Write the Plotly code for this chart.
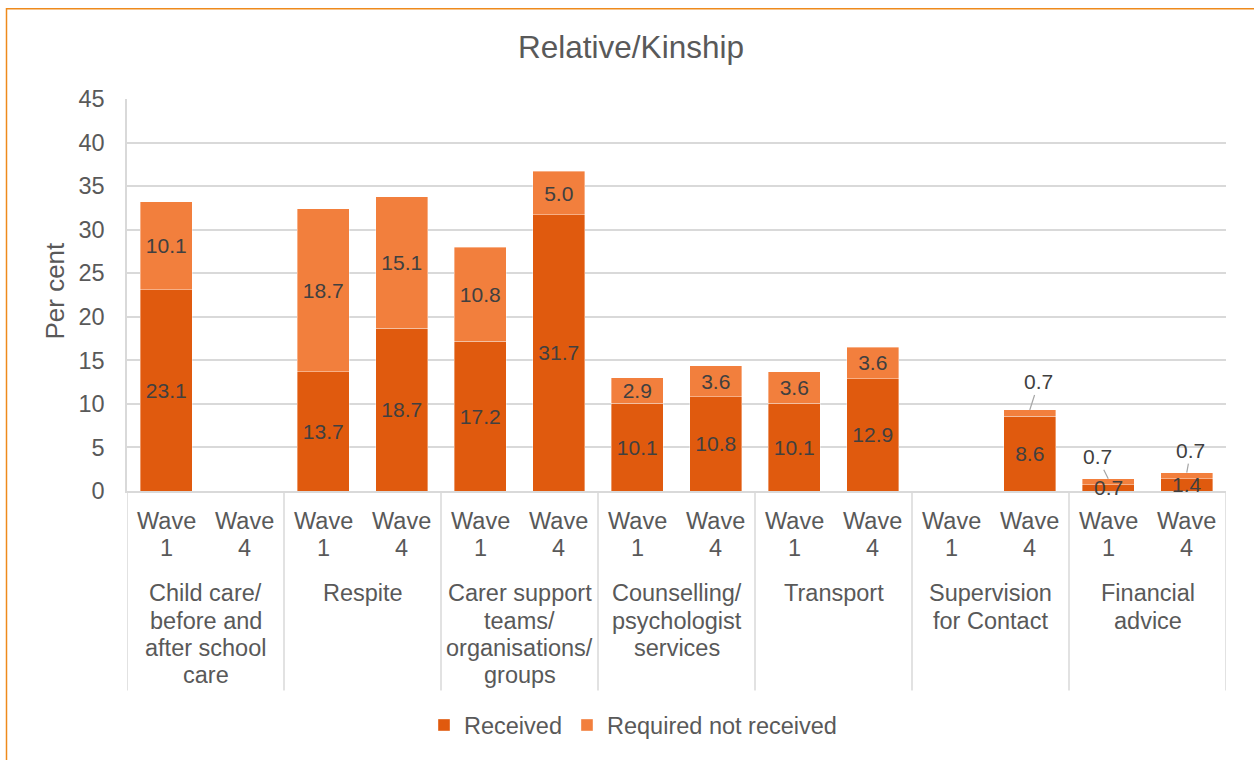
import plotly.graph_objects as go

# ---- data ----
groups = ["Child care/<br>before and<br>after school<br>care", "Respite",
          "Carer support<br>teams/<br>organisations/<br>groups",
          "Counselling/<br>psychologist<br>services", "Transport",
          "Supervision<br>for Contact", "Financial<br>advice"]
waves = ["Wave<br>1", "Wave<br>4"]
received = [23.1, None, 13.7, 18.7, 17.2, 31.7, 10.1, 10.8, 10.1, 12.9, None, 8.6, 0.7, 1.4]
required_not_received = [10.1, None, 18.7, 15.1, 10.8, 5.0, 2.9, 3.6, 3.6, 3.6, None, 0.7, 0.7, 0.7]
y_ticks = [0, 5, 10, 15, 20, 25, 30, 35, 40, 45]

# ---- style ----
FONT = "Liberation Sans, Arial, sans-serif"
TXT = "#595959"
LBL = "#404040"
C_REC = "#E05A0E"
C_REQ = "#F27F3D"
GRID = "#D9D9D9"
FRAME = "#EE8A1C"

W, H = 1254, 760
L, R, T, B = 127, 28, 99, 266
ph = H - T - B
pw = W - L - R

def py(px):  # pixel y -> paper y
    return (H - B - px) / ph

def pxx(px):
    return (px - L) / pw

n = len(received)
xs = list(range(n))
tick_text = [waves[i % 2] for i in xs]

# leader-line labels for small top segments (pixel offsets are style)
leader = {11: (9, -28), 12: (-11, -22), 13: (4, -22)}
# small bottom segments whose label is drawn on top of everything
small_bottom = {12, 13}

req_text = ["" if (v is None or i in leader) else f"{v:.1f}" for i, v in enumerate(required_not_received)]
rec_text = ["" if (v is None or i in small_bottom) else f"{v:.1f}" for i, v in enumerate(received)]

fig = go.Figure()
fig.add_trace(go.Bar(
    x=xs, y=received, name="Received", marker=dict(color=C_REC, line=dict(color="rgba(255,255,255,0.5)", width=0.75)),
    text=rec_text, textposition="inside", insidetextanchor="middle", textangle=0,
    textfont=dict(color=LBL, size=21, family=FONT), cliponaxis=False, hoverinfo="skip"))
fig.add_trace(go.Bar(
    x=xs, y=required_not_received, name="Required not received",
    marker=dict(color=C_REQ, line=dict(color="rgba(255,255,255,0.5)", width=0.75)),
    text=req_text, textposition="inside", insidetextanchor="middle", textangle=0,
    textfont=dict(color=LBL, size=21, family=FONT), cliponaxis=False, hoverinfo="skip"))

annotations = []
for i, (ax, ay) in leader.items():
    tot = (received[i] or 0) + (required_not_received[i] or 0)
    annotations.append(dict(x=i, y=tot, xref="x", yref="y", text=f"{required_not_received[i]:.1f}",
                            showarrow=True, arrowhead=0, arrowwidth=1.2, arrowcolor="#A6A6A6",
                            ax=ax, ay=ay, standoff=0,
                            font=dict(size=21, color=LBL, family=FONT)))
for i in sorted(small_bottom):
    annotations.append(dict(x=i, y=received[i] / 2, xref="x", yref="y", text=f"{received[i]:.1f}",
                            showarrow=False, xanchor="center", yanchor="middle",
                            font=dict(size=21, color=LBL, family=FONT)))

# category labels (wave row)
for i in xs:
    for j, line in enumerate(tick_text[i].split("<br>")):
        annotations.append(dict(x=i, y=py(524 + j * 27.5), xref="x", yref="paper", text=line,
                                showarrow=False, xanchor="center", yanchor="middle",
                                font=dict(size=23.5, color=TXT, family=FONT)))
# group labels
for g, label in enumerate(groups):
    for j, line in enumerate(label.split("<br>")):
        annotations.append(dict(x=2 * g + 0.5, y=py(597 + j * 27.5), xref="x", yref="paper", text=line,
                                showarrow=False, xanchor="center", yanchor="middle",
                                font=dict(size=23.5, color=TXT, family=FONT)))
# y-axis title
annotations.append(dict(x=pxx(55), y=py(292), xref="paper", yref="paper", text="Per cent", textangle=-90,
                        showarrow=False, xanchor="center", yanchor="middle",
                        font=dict(size=26, color=TXT, family=FONT)))

shapes = []
for g in range(len(groups) + 1):
    shapes.append(dict(type="line", xref="x", yref="paper", x0=2 * g - 0.5, x1=2 * g - 0.5,
                       y0=0, y1=py(695), line=dict(color=GRID, width=1.5)))
shapes.append(dict(type="rect", xref="paper", yref="paper", x0=pxx(6.5), x1=pxx(1262),
                   y0=py(775), y1=py(8), line=dict(color=FRAME, width=1.5)))

fig.update_layout(
    width=W, height=H, margin=dict(l=L, r=R, t=T, b=B),
    paper_bgcolor="white", plot_bgcolor="white",
    barmode="stack", bargap=0.34,
    font=dict(family=FONT, color=TXT, size=23.5),
    title=dict(text="Relative/Kinship", x=631 / W, xref="container", xanchor="center",
               y=1 - 47 / H, yref="container", yanchor="middle",
               font=dict(size=31.5, color=TXT, family=FONT)),
    xaxis=dict(range=[-0.5, n - 0.5], showticklabels=False, showgrid=False, zeroline=False,
               showline=True, linecolor=GRID, linewidth=1.5, fixedrange=True),
    yaxis=dict(range=[0, 45], tickvals=y_ticks, showgrid=True, gridcolor=GRID, gridwidth=1.5,
               zeroline=False, showline=True, linecolor=GRID, linewidth=1.5,
               ticks="outside", ticklen=16, tickcolor="rgba(0,0,0,0)",
               tickfont=dict(size=23.5, color=TXT, family=FONT)),
    legend=dict(orientation="h", x=pxx(633), xanchor="center", y=py(730), yanchor="middle",
                font=dict(size=23.5, color=TXT, family=FONT), itemwidth=30, traceorder="normal"),
    uniformtext=dict(minsize=21, mode="show"),
    annotations=annotations, shapes=shapes,
)

fig.write_html("out.html")
